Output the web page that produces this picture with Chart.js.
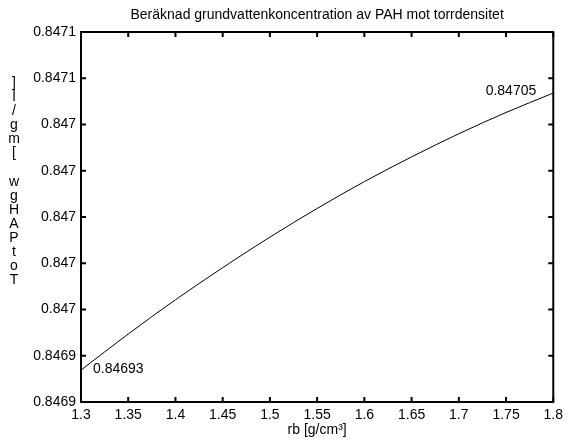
<!DOCTYPE html>
<html lang="sv">
<head>
    <meta charset="UTF-8">
    <title>Beräknad grundvattenkoncentration av PAH mot torrdensitet</title>
    <script src="https://cdn.jsdelivr.net/npm/chart.js"></script>
    <style>
        body { margin: 0; background: #fff; }
        #pahChart { display: block; }
    </style>
</head>
<body>
    <canvas id="pahChart" width="568" height="445"></canvas>
    <script>
        // data
        const titleText = 'Beräknad grundvattenkoncentration av PAH mot torrdensitet';
        const xTitle = 'rb [g/cm³]';
        const yTitle = 'TotPAHgw [mg/l]';

        const rbValues = [1.3, 1.35, 1.4, 1.45, 1.5, 1.55, 1.6, 1.65, 1.7, 1.75, 1.8];
        const concValues = [0.8469338, 0.8469494, 0.8469642, 0.8469781, 0.8469913, 0.8470037,
                            0.8470153, 0.8470260, 0.8470360, 0.8470452, 0.8470536];

        const xTicks = [1.3, 1.35, 1.4, 1.45, 1.5, 1.55, 1.6, 1.65, 1.7, 1.75, 1.8];
        const xTickLabels = ['1.3', '1.35', '1.4', '1.45', '1.5', '1.55', '1.6', '1.65', '1.7', '1.75', '1.8'];
        const yTicks = [0.84692, 0.84694, 0.84696, 0.84698, 0.847, 0.84702, 0.84704, 0.84706, 0.84708];
        const yTickLabels = ['0.8469', '0.8469', '0.847', '0.847', '0.847', '0.847', '0.847', '0.8471', '0.8471'];

        const FONT = '"Liberation Sans", Arial, Helvetica, sans-serif';
        const FS = 14;

        const points = rbValues.map((x, i) => ({ x: x, y: concValues[i] }));

        const matlabBox = {
            id: 'matlabBox',
            afterDraw(chart) {
                const ctx = chart.ctx;
                const a = chart.chartArea;
                const xs = chart.scales.x;
                const ys = chart.scales.y;
                ctx.save();
                ctx.strokeStyle = '#000';
                ctx.lineWidth = 2;
                ctx.strokeRect(a.left, a.top, a.right - a.left, a.bottom - a.top);

                // inward ticks on all four sides
                ctx.beginPath();
                xTicks.forEach(v => {
                    const px = xs.getPixelForValue(v);
                    ctx.moveTo(px, a.bottom); ctx.lineTo(px, a.bottom - 5);
                    ctx.moveTo(px, a.top); ctx.lineTo(px, a.top + 5);
                });
                yTicks.forEach(v => {
                    const py = ys.getPixelForValue(v);
                    ctx.moveTo(a.left, py); ctx.lineTo(a.left + 5, py);
                    ctx.moveTo(a.right, py); ctx.lineTo(a.right - 5, py);
                });
                ctx.stroke();

                ctx.fillStyle = '#000';
                ctx.font = FS + 'px ' + FONT;

                // end value labels
                const n = concValues.length;
                const x0 = xs.getPixelForValue(rbValues[0]);
                const y0 = ys.getPixelForValue(concValues[0]);
                const x1 = xs.getPixelForValue(rbValues[n - 1]);
                const y1 = ys.getPixelForValue(concValues[n - 1]);
                ctx.textBaseline = 'middle';
                ctx.textAlign = 'left';
                ctx.fillText(concValues[0].toFixed(5), x0 + 12, y0 - 1);
                ctx.textAlign = 'right';
                ctx.fillText(concValues[n - 1].toFixed(5), x1 - 17, y1 - 2);

                // stacked y label, read from bottom to top
                ctx.textAlign = 'center';
                const chars = yTitle.split('').reverse();
                chars.forEach((c, i) => {
                    ctx.fillText(c, 14, 83 + i * 14.1);
                });

                // title centred over the axes
                ctx.fillText(titleText, (a.left + a.right) / 2, 15);
                ctx.restore();
            }
        };

        new Chart(document.getElementById('pahChart'), {
            type: 'line',
            data: {
                datasets: [{
                    data: points,
                    borderColor: '#000',
                    borderWidth: 1,
                    pointRadius: 0,
                    fill: false,
                    cubicInterpolationMode: 'monotone'
                }]
            },
            options: {
                responsive: false,
                animation: false,
                layout: { padding: { top: 32, right: 12, left: 0, bottom: 0 } },
                plugins: {
                    legend: { display: false },
                    title: { display: false },
                    tooltip: { enabled: false }
                },
                scales: {
                    x: {
                        type: 'linear',
                        min: 1.3,
                        max: 1.8,
                        afterBuildTicks: s => { s.ticks = xTicks.map(v => ({ value: v })); },
                        afterFit: s => { s.height = 43; },
                        grid: { display: false, drawTicks: false },
                        border: { display: false },
                        ticks: {
                            padding: 5,
                            color: '#000',
                            maxRotation: 0,
                            autoSkip: false,
                            font: { family: FONT, size: FS },
                            callback: (v, i) => xTickLabels[i]
                        },
                        title: {
                            display: true,
                            text: xTitle,
                            color: '#000',
                            font: { family: FONT, size: FS },
                            padding: { top: 0, bottom: 6 }
                        }
                    },
                    y: {
                        type: 'linear',
                        min: 0.84692,
                        max: 0.84708,
                        afterBuildTicks: s => { s.ticks = yTicks.map(v => ({ value: v })); },
                        afterFit: s => { s.width = 81; },
                        grid: { display: false, drawTicks: false },
                        border: { display: false },
                        ticks: {
                            padding: 5,
                            color: '#000',
                            autoSkip: false,
                            font: { family: FONT, size: FS },
                            callback: (v, i) => yTickLabels[i]
                        }
                    }
                }
            },
            plugins: [matlabBox]
        });
    </script>
</body>
</html>
